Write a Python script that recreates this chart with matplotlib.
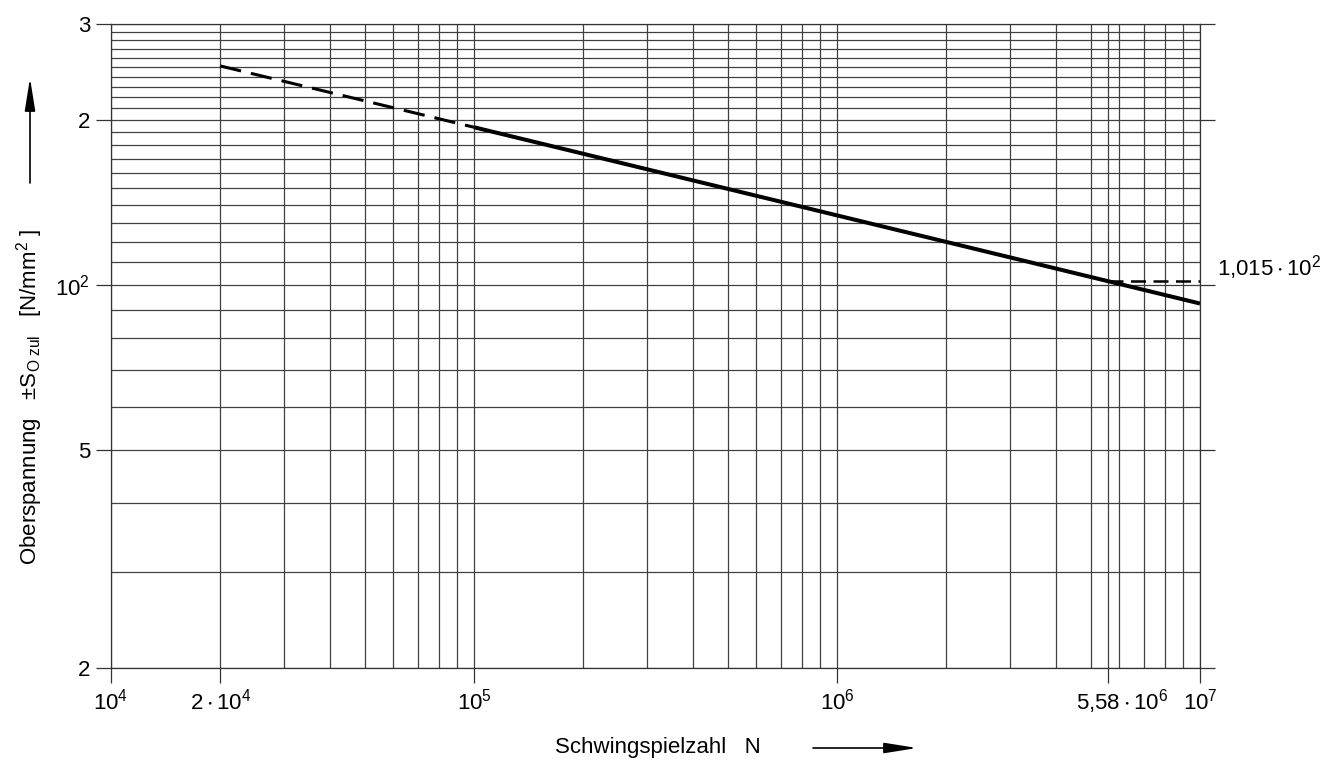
import matplotlib

matplotlib.use('Agg')

import matplotlib.pyplot as plt
import matplotlib.ticker as mticker
from matplotlib.patches import FancyArrowPatch

plt.rcParams['font.family'] = ['Liberation Sans', 'DejaVu Sans']
plt.rcParams['mathtext.fontset'] = 'custom'
plt.rcParams['mathtext.rm'] = 'Liberation Sans'
plt.rcParams['mathtext.it'] = 'Liberation Sans:italic'
plt.rcParams['mathtext.bf'] = 'Liberation Sans:bold'
fs = 16

# Woehler line
n_dashed = [2e4, 1e5]
s_dashed = [251, 194]
n_solid = [1e5, 1e7]
s_solid = [194, 92.5]
n_limit = [5.58e6, 1e7]
s_limit = [101.5, 101.5]

x_ticks = [1e4, 2e4, 1e5, 1e6, 5.58e6, 1e7]
x_labels = [r'$\mathregular{10^4}$', r'$\mathregular{2 \cdot 10^4}$',
            r'$\mathregular{10^5}$', r'$\mathregular{10^6}$',
            '', r'$\mathregular{10^7}$']
y_ticks = [20, 50, 100, 200, 300]
y_labels = ['2', '5', r'$\mathregular{10^2}$', '2', '3']

x_grid = [m * 10**e for e in range(4, 7) for m in range(2, 10)]
y_grid = list(range(30, 100, 10)) + list(range(110, 200, 10)) + list(range(210, 300, 10))

fig = plt.figure(figsize=(13.32, 7.64), dpi=100)
ax = fig.add_axes([111 / 1332, 1 - 668 / 764, (1200 - 111) / 1332, (668 - 23.5) / 764])

ax.set_xscale('log')
ax.set_yscale('log')
ax.set_xlim(1e4, 1e7)
ax.set_ylim(20, 300)

ax.xaxis.set_major_locator(mticker.FixedLocator(x_ticks))
ax.xaxis.set_major_formatter(mticker.FixedFormatter(x_labels))
ax.xaxis.set_minor_locator(mticker.FixedLocator(x_grid))
ax.xaxis.set_minor_formatter(mticker.NullFormatter())
ax.yaxis.set_major_locator(mticker.FixedLocator(y_ticks))
ax.yaxis.set_major_formatter(mticker.FixedFormatter(y_labels))
ax.yaxis.set_minor_locator(mticker.FixedLocator(y_grid))
ax.yaxis.set_minor_formatter(mticker.NullFormatter())

ax.grid(which='both', color='0.25', linewidth=0.9)
ax.tick_params(which='major', direction='out', length=11, width=0.9,
               color='0.2', labelsize=fs, pad=4)
ax.tick_params(axis='y', which='major', right=True)
ax.tick_params(which='minor', length=0)
for sp in ax.spines.values():
    sp.set_linewidth(0.9)
    sp.set_color('0.2')

ax.plot(n_dashed, s_dashed, color='black', linewidth=2.2, dashes=(7, 3.3))
ax.plot(n_solid, s_solid, color='black', linewidth=2.9, solid_capstyle='butt')
ax.plot(n_limit, s_limit, color='black', linewidth=1.8, dashes=(6, 3))

# label of the 5,58e6 tick sits a bit right of its tick
ax.annotate(r'$\mathregular{5{,}58 \cdot 10^6}$', xy=(5.58e6, 0),
            xycoords=('data', 'axes fraction'), xytext=(10, -14),
            textcoords='offset points', fontsize=fs, ha='center', va='top')

ax.annotate(r'$\mathregular{1{,}015 \cdot 10^2}$', xy=(1e7, 101.5), xytext=(12, 4),
            textcoords='offset points', fontsize=fs, ha='left', va='baseline')

fig.text(30 / 1332, 1 - 397 / 764,
         r'Oberspannung   $\mathregular{\pm S_{O\ zul}}$   [N/mm$\mathregular{^2}$ ]',
         rotation=90, ha='center', va='center', fontsize=fs)
fig.text(658 / 1332, 1 - 748 / 764, 'Schwingspielzahl   N',
         ha='center', va='center', fontsize=fs)

arrow = dict(arrowstyle='-|>,head_length=1.0,head_width=0.16', color='black',
             linewidth=1.2, shrinkA=0, shrinkB=0)
fig.add_artist(FancyArrowPatch(
    (30 / 1332, 1 - 183 / 764), (30 / 1332, 1 - 78 / 764),
    transform=fig.transFigure, mutation_scale=20, **arrow))
fig.add_artist(FancyArrowPatch(
    (813 / 1332, 1 - 748 / 764), (917 / 1332, 1 - 748 / 764),
    transform=fig.transFigure, mutation_scale=20, **arrow))

fig.savefig('out.png', dpi=100)
